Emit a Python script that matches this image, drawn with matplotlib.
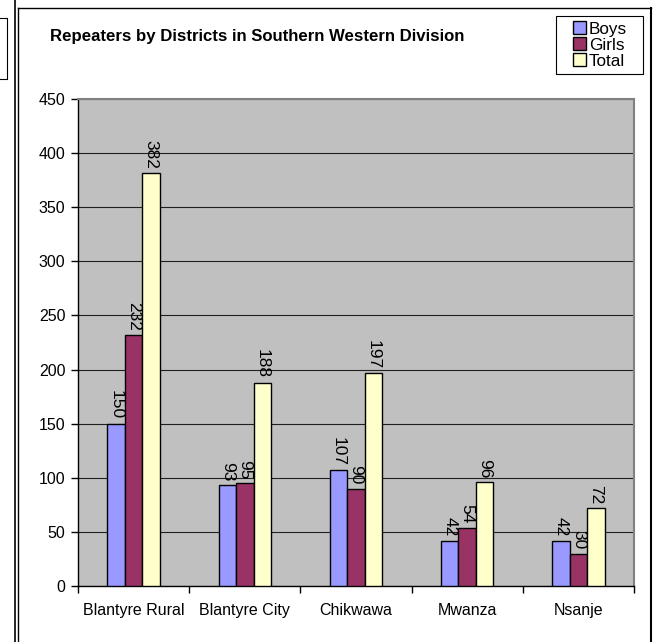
import numpy as np
import matplotlib
matplotlib.use("Agg")
from matplotlib import pyplot as plt
from matplotlib.lines import Line2D
from matplotlib.patches import Rectangle

plt.rcParams['font.family'] = ['Liberation Sans', 'DejaVu Sans']

districts = ['Blantyre Rural', 'Blantyre City', 'Chikwawa', 'Mwanza', 'Nsanje']
boys = [150, 93, 107, 42, 42]
girls = [232, 95, 90, 54, 30]
total = [382, 188, 197, 96, 72]
series_names = ['Boys', 'Girls', 'Total']
colors = ['#9999FF', '#993366', '#FFFFCC']

W, H = 656, 642
fig = plt.figure(figsize=(W / 100, H / 100), dpi=100)

def fx(px):
    return px / W

def fy(py):
    return 1 - py / H

# outer frames
fig.add_artist(Line2D([fx(15), fx(15)], [0, 1], color='black', lw=1.2))
fig.add_artist(Line2D([fx(17.5), fx(17.5)], [0, fy(8)], color='black', lw=1.0))
fig.add_artist(Line2D([fx(17.5), fx(651)], [fy(8), fy(8)], color='black', lw=1.0))
fig.add_artist(Line2D([fx(651), fx(651)], [fy(8), 0], color='black', lw=1.5))
# fragment of neighbouring chart at the left
fig.add_artist(Line2D([0, fx(6.5), fx(6.5), 0], [fy(18), fy(18), fy(79), fy(79)],
                      color='black', lw=0.8))

ax = fig.add_axes([fx(78), 1 - 586 / H, (634 - 78) / W, (586 - 99) / H])
ax.set_facecolor('#C0C0C0')

x = np.arange(len(districts)) + 0.5
bw = 0.157
data = [boys, girls, total]
for i, (vals, c) in enumerate(zip(data, colors)):
    pos = x + (i - 1) * bw
    ax.bar(pos, vals, width=bw, color=c, edgecolor='black', linewidth=1.0,
           label=series_names[i], zorder=3)
    for xp, v in zip(pos, vals):
        ax.annotate(str(v), (xp, v), xytext=(0, 3), textcoords='offset points',
                    rotation=270, ha='center', va='bottom', fontsize=12.5)

ax.set_xlim(0, len(districts))
ax.set_ylim(0, 450)
ax.set_yticks(np.arange(0, 451, 50))
ax.yaxis.grid(True, color='#202020', lw=0.8, zorder=1)
ax.set_axisbelow(True)

ax.set_xticks(x)
ax.set_xticklabels(districts, fontsize=11.5)
ax.set_xticks(np.arange(0, len(districts) + 1), minor=True)
ax.tick_params(axis='x', which='major', length=0, pad=12)
ax.tick_params(axis='x', which='minor', length=5, width=1, direction='out')
ax.tick_params(axis='y', length=5, width=1, labelsize=11.5, pad=4)

for s in ['top', 'right']:
    ax.spines[s].set_color('#808080')
    ax.spines[s].set_linewidth(1.5)
for s in ['left', 'bottom']:
    ax.spines[s].set_color('black')
    ax.spines[s].set_linewidth(1.0)

fig.text(fx(50), fy(36), 'Repeaters by Districts in Southern Western Division',
         fontsize=12.1, fontweight='bold', ha='left', va='center')

# legend box drawn separately for its wide padding
fig.add_artist(Rectangle((fx(556), fy(74)), fx(643) - fx(556), fy(16) - fy(74),
                         transform=fig.transFigure, facecolor='white',
                         edgecolor='black', lw=0.8))
leg = fig.legend(loc='center', bbox_to_anchor=(fx(600), fy(45)),
                 fontsize=12.3, frameon=False,
                 handlelength=0.75, handleheight=0.75, handletextpad=0.2,
                 borderpad=0, labelspacing=0.05, borderaxespad=0)

fig.savefig('out.png', dpi=100, facecolor='white')
